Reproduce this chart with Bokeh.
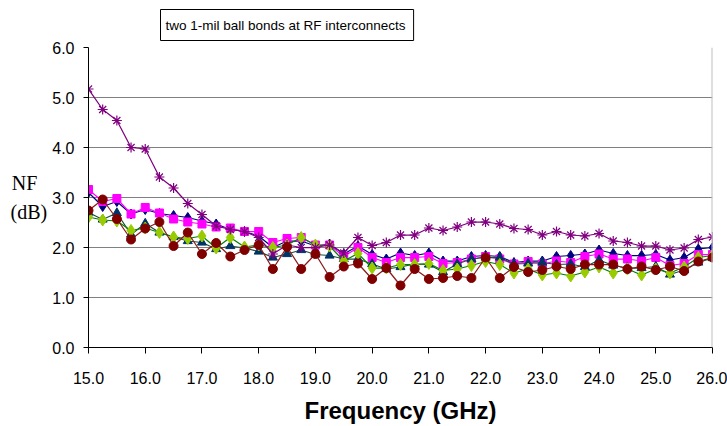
from bokeh.plotting import figure
from bokeh.models import Range1d, Span, NumeralTickFormatter, FixedTicker
from bokeh.embed import file_html
from bokeh.resources import INLINE

# Frequency points (GHz)
freq = [15.0, 15.25, 15.5, 15.75, 16.0, 16.25, 16.5, 16.75, 17.0, 17.25, 17.5, 17.75,
        18.0, 18.25, 18.5, 18.75, 19.0, 19.25, 19.5, 19.75, 20.0, 20.25, 20.5, 20.75,
        21.0, 21.25, 21.5, 21.75, 22.0, 22.25, 22.5, 22.75, 23.0, 23.25, 23.5, 23.75,
        24.0, 24.25, 24.5, 24.75, 25.0, 25.25, 25.5, 25.75, 26.0]

nf_navy = [3.10, 2.82, 2.92, 2.67, 2.76, 2.68, 2.64, 2.60, 2.53, 2.47, 2.36, 2.32,
           2.23, 2.00, 2.13, 2.13, 2.03, 2.07, 1.87, 2.03, 1.86, 1.77, 1.89, 1.84,
           1.89, 1.73, 1.73, 1.82, 1.84, 1.82, 1.70, 1.73, 1.73, 1.82, 1.84, 1.87,
           1.95, 1.88, 1.84, 1.84, 1.86, 1.75, 1.80, 1.97, 2.00]

nf_magenta = [3.16, 2.92, 2.98, 2.67, 2.80, 2.69, 2.57, 2.51, 2.47, 2.41, 2.39, 2.32,
              2.32, 2.10, 2.18, 2.20, 2.05, 2.05, 1.82, 2.00, 1.80, 1.70, 1.80, 1.80,
              1.82, 1.68, 1.70, 1.77, 1.82, 1.77, 1.67, 1.72, 1.67, 1.73, 1.70, 1.82,
              1.87, 1.77, 1.77, 1.73, 1.80, 1.64, 1.68, 1.86, 1.86]

nf_triangle = [2.70, 2.56, 2.69, 2.26, 2.48, 2.30, 2.21, 2.13, 2.10, 1.97, 2.03, 1.99,
               1.92, 1.80, 1.87, 1.95, 1.86, 1.84, 1.77, 1.77, 1.67, 1.57, 1.61, 1.67,
               1.66, 1.51, 1.67, 1.77, 1.80, 1.80, 1.67, 1.68, 1.70, 1.66, 1.67, 1.61,
               1.75, 1.64, 1.59, 1.59, 1.62, 1.46, 1.55, 1.70, 1.79]

nf_green = [2.61, 2.55, 2.53, 2.34, 2.39, 2.30, 2.21, 2.18, 2.23, 1.99, 2.20, 2.01,
            2.05, 2.00, 2.05, 2.20, 2.05, 2.03, 1.73, 1.88, 1.59, 1.59, 1.66, 1.66,
            1.68, 1.54, 1.57, 1.64, 1.72, 1.66, 1.49, 1.57, 1.45, 1.49, 1.43, 1.51,
            1.61, 1.49, 1.57, 1.45, 1.57, 1.49, 1.61, 1.80, 1.84]

nf_purple = [5.17, 4.76, 4.54, 4.00, 3.97, 3.41, 3.19, 2.88, 2.66, 2.43, 2.36, 2.32,
             2.20, 1.87, 2.05, 2.00, 2.00, 2.05, 1.89, 2.20, 2.04, 2.10, 2.25, 2.25,
             2.39, 2.34, 2.41, 2.51, 2.51, 2.47, 2.38, 2.36, 2.25, 2.32, 2.25, 2.23,
             2.28, 2.13, 2.10, 2.03, 2.03, 1.95, 1.99, 2.16, 2.21]

nf_maroon = [2.74, 2.96, 2.57, 2.16, 2.38, 2.51, 2.03, 2.30, 1.87, 2.09, 1.82, 1.95,
             2.05, 1.57, 2.01, 1.57, 1.87, 1.41, 1.62, 1.68, 1.37, 1.59, 1.24, 1.57,
             1.37, 1.39, 1.43, 1.39, 1.80, 1.39, 1.61, 1.51, 1.55, 1.62, 1.57, 1.66,
             1.66, 1.66, 1.57, 1.62, 1.55, 1.62, 1.53, 1.72, 1.80]

x_ticks = [15, 16, 17, 18, 19, 20, 21, 22, 23, 24, 25, 26]
y_ticks = [0, 1, 2, 3, 4, 5, 6]
title_text = "two 1-mil ball bonds at RF interconnects"
y_label = "NF\u00a0\u00a0\n(dB)"
x_label = "Frequency (GHz)"

W, H = 727, 426
p = figure(width=W, height=H, x_range=Range1d(15, 26), y_range=Range1d(0, 6),
           output_backend="svg", toolbar_location=None, title=title_text,
           min_border_left=88, min_border_right=15, min_border_top=46, min_border_bottom=75)
p.background_fill_color = "white"
p.border_fill_color = "white"
p.outline_line_color = None

# boxed title above the frame
p.title.align = "left"
p.title.offset = 72
p.title.standoff = 14
p.title.text_font = "Liberation Sans"
p.title.text_font_size = "13.5px"
p.title.text_font_style = "normal"
p.title.text_color = "black"
p.title.padding = dict(left=5, right=8, top=8, bottom=8)
p.title.border_line_color = "black"
p.title.border_line_width = 1
p.title.background_fill_color = "white"

p.xgrid.grid_line_color = None
p.ygrid.grid_line_color = "#808080"
p.ygrid.grid_line_width = 1

p.xaxis.ticker = FixedTicker(ticks=x_ticks)
p.yaxis.ticker = FixedTicker(ticks=y_ticks)
p.xaxis.formatter = NumeralTickFormatter(format="0.0")
p.yaxis.formatter = NumeralTickFormatter(format="0.0")
for ax in (p.xaxis[0], p.yaxis[0]):
    ax.axis_line_color = "black"
    ax.major_tick_line_color = "black"
    ax.minor_tick_line_color = None
    ax.major_tick_in = 0
    ax.major_label_text_font = "Liberation Sans"
    ax.major_label_text_font_size = "16px"
    ax.major_label_text_color = "black"
p.yaxis.major_tick_out = 5
p.yaxis.major_label_standoff = 9
p.xaxis.major_tick_out = 6
p.xaxis.major_label_standoff = 18

p.xaxis.axis_label = x_label
p.xaxis.axis_label_text_font = "Liberation Sans"
p.xaxis.axis_label_text_font_style = "bold"
p.xaxis.axis_label_text_font_size = "24px"
p.xaxis.axis_label_text_color = "black"
p.xaxis.axis_label_standoff = 10

p.yaxis.axis_label = y_label
p.yaxis.axis_label_orientation = "horizontal"
p.yaxis.axis_label_text_font = "Liberation Serif"
p.yaxis.axis_label_text_font_style = "normal"
p.yaxis.axis_label_text_font_size = "20px"
p.yaxis.axis_label_text_color = "black"
p.yaxis.axis_label_text_align = "left"
p.yaxis.axis_label_text_line_height = 1.3
p.yaxis.axis_label_standoff = 2

p.add_layout(Span(location=26, dimension="height", line_color="#C0C0C0", line_width=2))

# series
p.line(freq, nf_navy, line_color="#000080", line_width=1.25)
p.scatter(freq, nf_navy, marker="diamond", size=10, fill_color="#000080", line_color="#000080")

p.line(freq, nf_magenta, line_color="#FF00FF", line_width=1.25)
p.scatter(freq, nf_magenta, marker="square", size=8, fill_color="#FF00FF", line_color="#FF00FF")

p.line(freq, nf_triangle, line_color="#1F4F3A", line_width=1.25)
p.scatter(freq, nf_triangle, marker="triangle", size=9, fill_color="#003366", line_color="#003366")

p.line(freq, nf_green, line_color="#008000", line_width=1.25)
p.scatter(freq, nf_green, marker="diamond", size=12, fill_color="#99CC00", line_color="#99CC00")

p.line(freq, nf_purple, line_color="#800080", line_width=1.25)
p.scatter(freq, nf_purple, marker="asterisk", size=10, fill_color=None, line_color="#800080", line_width=1.2)

p.line(freq, nf_maroon, line_color="#8B1A1A", line_width=1.25)
p.scatter(freq, nf_maroon, marker="circle", size=9, fill_color="#800000", line_color="#800000")

open("out.html", "w").write(file_html(p, INLINE))
